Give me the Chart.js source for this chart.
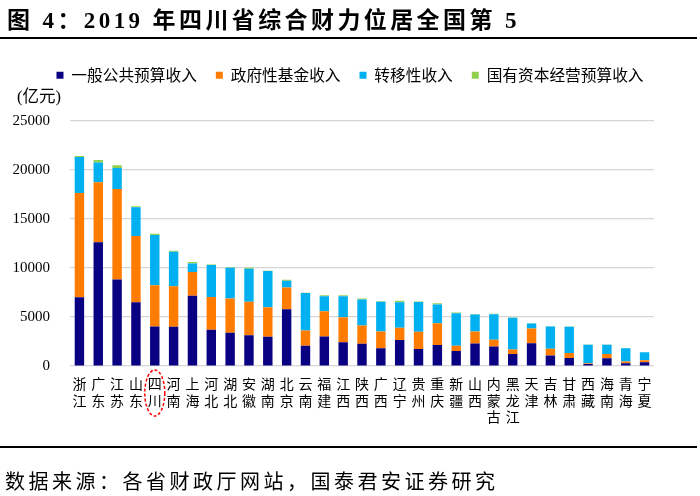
<!DOCTYPE html>
<html>
<head>
<meta charset="utf-8">
<script src="https://cdn.jsdelivr.net/npm/chart.js@4.4.1/dist/chart.umd.min.js"></script>
<style>
  body { margin: 0; background: #fff; }
  #wrap { position: relative; width: 700px; height: 496px; overflow: hidden; }
  #chart { position: absolute; left: 0; top: 0; }
  .title { position: absolute; left: 7px; top: 1px; font: bold 23px "Liberation Serif", "Noto Sans CJK SC"; letter-spacing: 3.4px; color: #000; white-space: nowrap; }
  .rule { position: absolute; left: 0; width: 697px; height: 2px; background: #000; }
  .unit { position: absolute; left: 17px; top: 87px; font: 16.5px/20px "Liberation Serif", "Noto Sans CJK SC"; color: #000; }
  .source { position: absolute; left: 5px; top: 466px; font: 20px "Liberation Serif", "Noto Sans CJK SC"; letter-spacing: 3.5px; color: #000; white-space: nowrap; }
</style>
</head>
<body>
<div id="wrap">
  <canvas id="chart" width="700" height="496"></canvas>
  <div class="title">图 4：2019 年四川省综合财力位居全国第 5</div>
  <div class="rule" style="top:37px"></div>
  <div class="unit">(亿元)</div>
  <div class="rule" style="top:446px"></div>
  <div class="source">数据来源：各省财政厅网站，国泰君安证券研究</div>
</div>
<script>
const provinces = [
  ['浙', '江'], ['广', '东'], ['江', '苏'], ['山', '东'], ['四', '川'], ['河', '南'], ['上', '海'], ['河', '北'],
  ['湖', '北'], ['安', '徽'], ['湖', '南'], ['北', '京'], ['云', '南'], ['福', '建'], ['江', '西'], ['陕', '西'],
  ['广', '西'], ['辽', '宁'], ['贵', '州'], ['重', '庆'], ['新', '疆'], ['山', '西'], ['内', '蒙', '古'], ['黑', '龙', '江'],
  ['天', '津'], ['吉', '林'], ['甘', '肃'], ['西', '藏'], ['海', '南'], ['青', '海'], ['宁', '夏']
];

// 亿元
const generalBudget = [7000, 12610, 8820, 6490, 4030, 4000, 7170, 3690, 3390, 3140, 2980, 5780, 2070, 3010, 2430, 2270,
  1800, 2640, 1720, 2130, 1520, 2300, 2000, 1220, 2330, 1060, 810, 200, 780, 270, 380];
const fundBudget = [10640, 6120, 9230, 6760, 4190, 4120, 2400, 3350, 3480, 3420, 3000, 2230, 1550, 2570, 2540, 1860,
  1720, 1260, 1760, 2230, 550, 1220, 680, 450, 1490, 710, 510, 70, 440, 200, 200];
const transferIncome = [3650, 2000, 2130, 2940, 5140, 3520, 870, 3250, 3140, 3350, 3690, 680, 3820, 1520, 2130, 2640,
  3040, 2600, 3040, 1900, 3310, 1720, 2600, 3250, 510, 2260, 2680, 1900, 950, 1350, 810];
const stateCapital = [100, 260, 270, 100, 130, 100, 170, 50, 50, 100, 50, 100, 30, 100, 100, 100,
  30, 140, 50, 130, 70, 70, 40, 30, 30, 30, 20, 10, 20, 20, 20];

const yTicks = [0, 5000, 10000, 15000, 20000, 25000];
const highlightIndex = 4; // 四川

const serif = '"Liberation Serif", "Noto Sans CJK SC"';

// dashed red ring round the 四川 label
const highlightPlugin = {
  id: 'highlight',
  afterDraw(chart) {
    const ctx = chart.ctx;
    const x = chart.scales.x.getPixelForValue(highlightIndex);
    const y = chart.chartArea.bottom + 27;
    ctx.save();
    ctx.strokeStyle = '#ff0000';
    ctx.lineWidth = 1.5;
    ctx.setLineDash([3, 2]);
    ctx.beginPath();
    ctx.ellipse(x, y, 10, 23, 0, 0, Math.PI * 2);
    ctx.stroke();
    ctx.restore();
  }
};

new Chart(document.getElementById('chart'), {
  type: 'bar',
  data: {
    labels: provinces,
    datasets: [
      { label: '一般公共预算收入', data: generalBudget, backgroundColor: '#0a0082' },
      { label: '政府性基金收入', data: fundBudget, backgroundColor: '#ff7c00' },
      { label: '转移性收入', data: transferIncome, backgroundColor: '#00b0f0' },
      { label: '国有资本经营预算收入', data: stateCapital, backgroundColor: '#92d050' }
    ]
  },
  options: {
    responsive: false,
    animation: false,
    layout: { padding: { top: 48.5, left: 0, right: 0, bottom: 60 } },
    datasets: { bar: { categoryPercentage: 1, barPercentage: 0.5 } },
    plugins: {
      tooltip: { enabled: false },
      legend: {
        position: 'top',
        labels: {
          boxWidth: 7,
          boxHeight: 7,
          padding: 19,
          color: '#000',
          font: { size: 15.7, family: '"Noto Sans CJK SC"' }
        }
      },
      // empty spacer between the legend and the plot, where the unit label sits
      subtitle: {
        display: true,
        text: '',
        position: 'top',
        weight: 500,
        font: { size: 16, lineHeight: 1 },
        padding: { top: 0, bottom: 11.5 }
      }
    },
    scales: {
      x: {
        stacked: true,
        grid: { display: false, drawTicks: false },
        border: { display: false },
        ticks: {
          autoSkip: false,
          maxRotation: 0,
          padding: 9,
          color: '#000',
          font: { size: 14, family: '"Noto Sans CJK SC"', lineHeight: 1.2 }
        },
        afterFit: (scale) => { scale.height = 70; }
      },
      y: {
        stacked: true,
        min: 0,
        max: 25000,
        grid: { color: '#d6d6d6', lineWidth: 1.2, drawTicks: false },
        border: { display: false },
        afterBuildTicks: (scale) => { scale.ticks = yTicks.map((v) => ({ value: v })); },
        ticks: {
          padding: 20,
          color: '#000',
          font: { size: 15, family: serif },
          callback: (value) => String(value)
        },
        afterFit: (scale) => { scale.width = 70; }
      },
      // blank right margin so the full-width legend centres like the original
      yRight: {
        position: 'right',
        grid: { display: false },
        border: { display: false },
        ticks: { display: false },
        afterFit: (scale) => { scale.width = 46; }
      }
    }
  },
  plugins: [highlightPlugin]
});
</script>
</body>
</html>
